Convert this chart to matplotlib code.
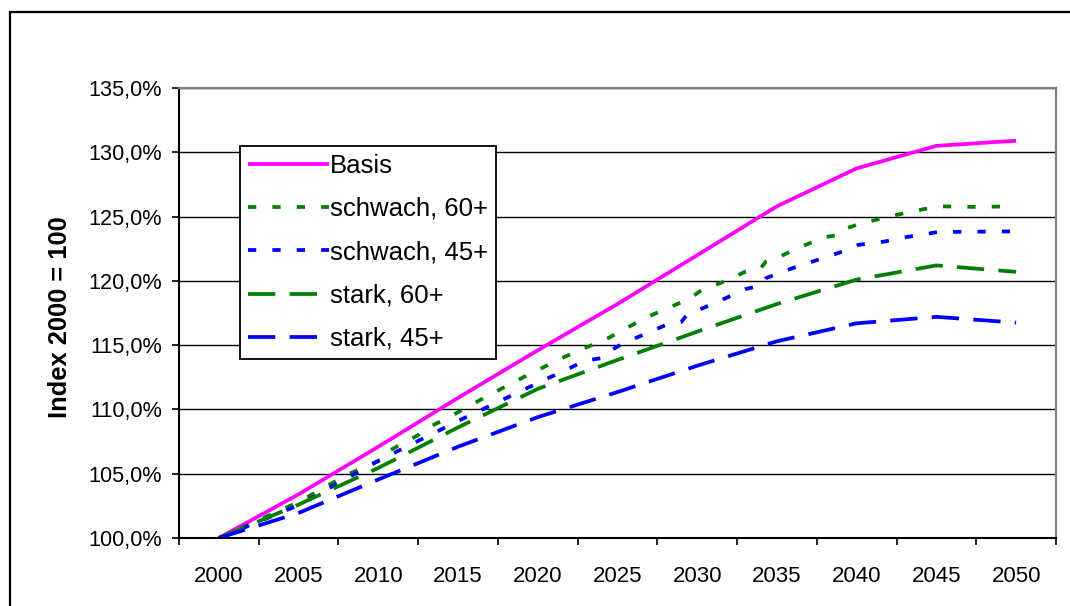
import matplotlib
matplotlib.use("Agg")
import matplotlib.pyplot as plt
from matplotlib.patches import Rectangle
from matplotlib.ticker import FixedLocator, NullFormatter

plt.rcParams['font.family'] = ['Liberation Sans', 'DejaVu Sans']

# Category axis: years in five-year steps
years = [2000, 2005, 2010, 2015, 2020, 2025, 2030, 2035, 2040, 2045, 2050]
year_labels = [str(y) for y in years]

# Index values (2000 = 100)
basis = [100.0, 103.4, 107.1, 110.9, 114.6, 118.2, 122.0, 125.8, 128.75, 130.5, 130.9]
stark_60 = [100.0, 102.6, 105.45, 108.6, 111.6, 113.85, 116.05, 118.2, 120.1, 121.2, 120.7]
stark_45 = [100.0, 101.95, 104.55, 107.1, 109.4, 111.35, 113.4, 115.3, 116.7, 117.2, 116.75]

# The "schwach" scenarios are given at a finer time resolution
schwach_60_years = [2000, 2005, 2008, 2010.2, 2010.4, 2012.5, 2012.8, 2014.3, 2016.7,
                    2019.4, 2021.7, 2024.5, 2026.7, 2029.5, 2030.3, 2031.6, 2033.0,
                    2034.0, 2034.3, 2035.2, 2036.6, 2038.0, 2039.0, 2039.4, 2040.1,
                    2041.7, 2043.1, 2045.1, 2047.5, 2050]
schwach_60 = [100.0, 102.8, 104.9, 106.1, 106.6, 108.0, 108.4, 109.3, 110.95,
              112.7, 114.1, 115.6, 117.1, 118.6, 119.3, 119.9, 120.7,
              121.0, 121.5, 121.9, 122.7, 123.4, 123.6, 124.1, 124.4,
              124.9, 125.3, 125.8, 125.75, 125.8]

schwach_45_years = [2000, 2005, 2010, 2015, 2020, 2023.0, 2024.05, 2024.45, 2025.3,
                    2028.0, 2029.0, 2029.35, 2030.3, 2031.6, 2033.0, 2034.0, 2034.3,
                    2035.3, 2036.6, 2038.1, 2039.5, 2040.1, 2041.7, 2043.1, 2045.1, 2050]
schwach_45 = [100.0, 102.55, 106.0, 109.1, 112.05, 113.8, 114.0, 114.5, 115.1,
              116.55, 116.8, 117.35, 117.85, 118.55, 119.35, 119.65, 120.2,
              120.7, 121.25, 121.85, 122.45, 122.8, 123.05, 123.4, 123.8, 123.85]

y_ticks = [100, 105, 110, 115, 120, 125, 130, 135]

series_names = ["Basis", "schwach, 60+", "schwach, 45+", "stark, 60+", "stark, 45+"]


def to_pos(yrs):
    step = years[1] - years[0]
    return [(y - years[0]) / step for y in yrs]


W, H = 1070, 606
fig = plt.figure(figsize=(W / 100, H / 100), dpi=100)
fig.patch.set_facecolor("white")

# outer chart frame (runs off the right and bottom edge)
fig.patches.append(Rectangle((10 / W, -0.1), 1.2, (1 - 12 / H) + 0.1,
                             transform=fig.transFigure, fill=False,
                             edgecolor="black", lw=1.6))

ax = fig.add_axes([179 / W, (H - 538) / H, (1056 - 179) / W, 450 / H])

pos = to_pos(years)
dot = (0, (2.2, 4.3))
longdash = (0, (7.3, 3.8))
lw = 2.7

ax.plot(pos, basis, color="#FF00FF", lw=lw, solid_capstyle="butt", label=series_names[0])
ax.plot(to_pos(schwach_60_years), schwach_60, color="#008000", lw=lw,
        linestyle=dot, dash_capstyle="butt", label=series_names[1])
ax.plot(to_pos(schwach_45_years), schwach_45, color="#0000FF", lw=lw,
        linestyle=dot, dash_capstyle="butt", label=series_names[2])
ax.plot(pos, stark_60, color="#008000", lw=lw, linestyle=longdash,
        dash_capstyle="butt", label=series_names[3])
ax.plot(pos, stark_45, color="#0000FF", lw=lw, linestyle=longdash,
        dash_capstyle="butt", label=series_names[4])

ax.set_xlim(-0.5, len(years) - 0.5)
ax.set_ylim(y_ticks[0], y_ticks[-1])

# tick marks between categories, labels at category centres
ax.xaxis.set_major_locator(FixedLocator([i - 0.5 for i in range(len(years) + 1)]))
ax.xaxis.set_major_formatter(NullFormatter())
ax.xaxis.set_minor_locator(FixedLocator(pos))
ax.set_xticklabels(year_labels, minor=True)
ax.tick_params(axis="x", which="major", direction="out", length=5, width=1.2, color="black")
ax.tick_params(axis="x", which="minor", length=0, pad=20, labelsize=16)

ax.set_yticks(y_ticks)
ax.set_yticklabels([f"{v:.1f}%".replace(".", ",") for v in y_ticks])
ax.tick_params(axis="y", direction="out", length=5, width=1.2, color="black",
               pad=7, labelsize=15.6)

ax.yaxis.grid(True, color="black", lw=1.0)
ax.xaxis.grid(False)

for side in ("left", "bottom"):
    ax.spines[side].set_color("black")
    ax.spines[side].set_linewidth(1.5)
for side in ("top", "right"):
    ax.spines[side].set_color("#808080")
    ax.spines[side].set_linewidth(1.6)

fig.text(60 / W, 1 - 317 / H, "Index 2000 = 100", rotation=90, ha="center",
         va="center", fontsize=18.4, fontweight="bold")

leg = ax.legend(loc="upper left", bbox_to_anchor=(240 / W, 1 - 146 / H),
                bbox_transform=fig.transFigure, borderaxespad=0, fontsize=18.5,
                handlelength=3.15, handletextpad=0.05, labelspacing=0.75,
                borderpad=0.3, fancybox=False, framealpha=1, edgecolor="black")
leg.get_frame().set_linewidth(1.3)

fig.savefig("out.png", dpi=100, facecolor="white")
